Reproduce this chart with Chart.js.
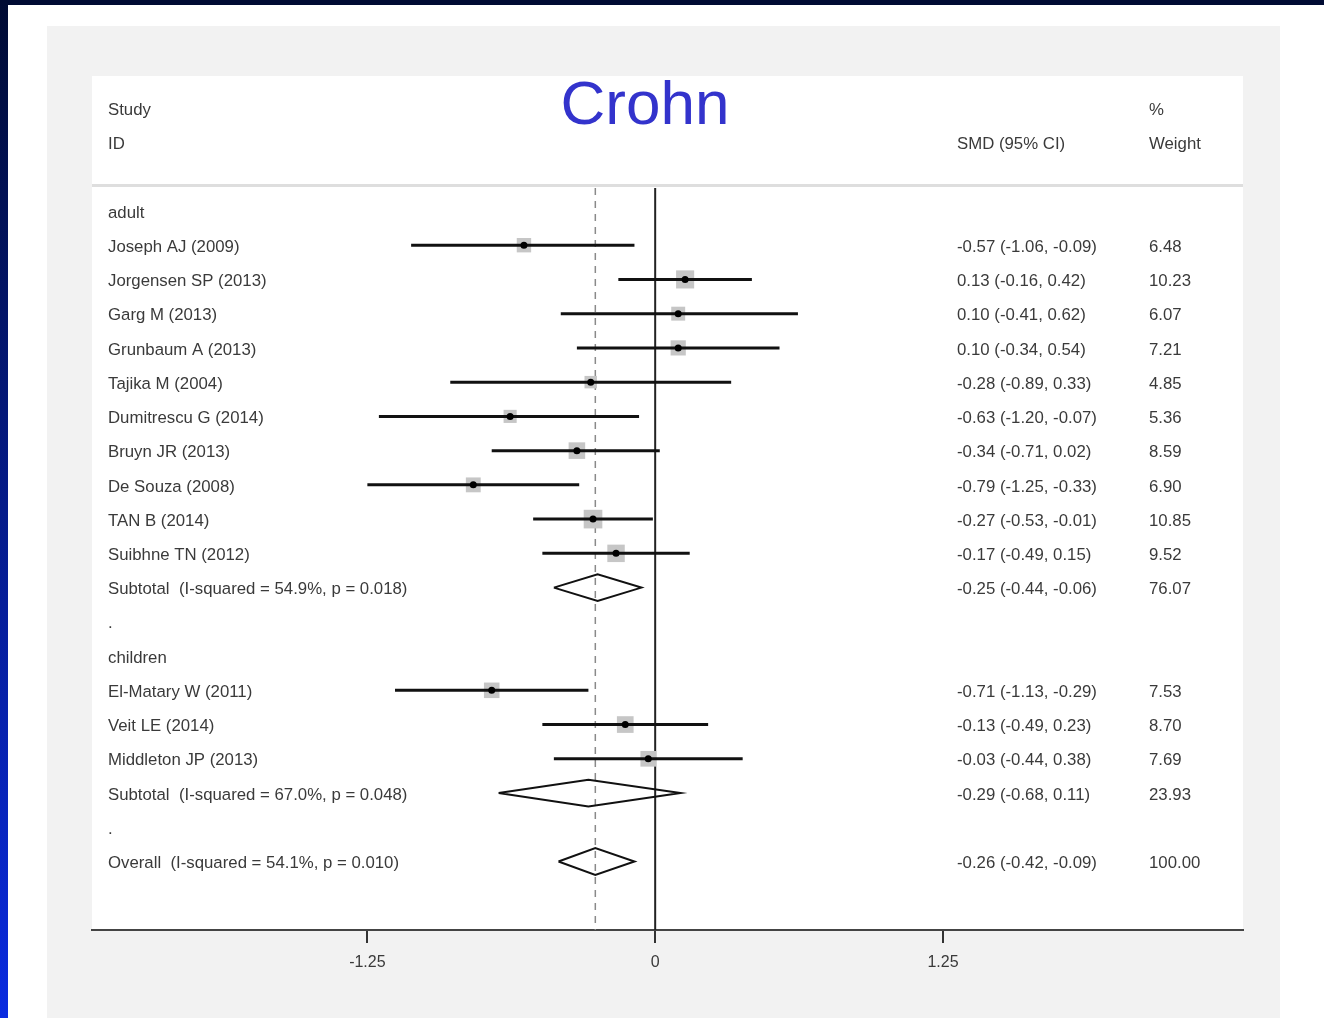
<!DOCTYPE html>
<html>
<head>
<meta charset="utf-8">
<script src="https://cdn.jsdelivr.net/npm/chart.js@4.4.0/dist/chart.umd.min.js"></script>
<style>
  body { margin: 0; background: #fff; }
  #forest { display: block; }
</style>
</head>
<body>
<canvas id="forest" width="1324" height="1018"></canvas>
<script>
// study rows
const studyNames = ["Joseph AJ (2009)", "Jorgensen SP (2013)", "Garg M (2013)", "Grunbaum A (2013)",
  "Tajika M (2004)", "Dumitrescu G (2014)", "Bruyn JR (2013)", "De Souza (2008)", "TAN B (2014)",
  "Suibhne TN (2012)", "El-Matary W (2011)", "Veit LE (2014)", "Middleton JP (2013)"];
const studyRows = [1, 2, 3, 4, 5, 6, 7, 8, 9, 10, 14, 15, 16];
const studyEst = [-0.57, 0.13, 0.10, 0.10, -0.28, -0.63, -0.34, -0.79, -0.27, -0.17, -0.71, -0.13, -0.03];
const studyLow = [-1.06, -0.16, -0.41, -0.34, -0.89, -1.20, -0.71, -1.25, -0.53, -0.49, -1.13, -0.49, -0.44];
const studyHigh = [-0.09, 0.42, 0.62, 0.54, 0.33, -0.07, 0.02, -0.33, -0.01, 0.15, -0.29, 0.23, 0.38];
const studyWeight = [6.48, 10.23, 6.07, 7.21, 4.85, 5.36, 8.59, 6.90, 10.85, 9.52, 7.53, 8.70, 7.69];

// pooled rows (diamonds)
const poolLabels = ["Subtotal  (I-squared = 54.9%, p = 0.018)", "Subtotal  (I-squared = 67.0%, p = 0.048)",
  "Overall  (I-squared = 54.1%, p = 0.010)"];
const poolRows = [11, 17, 19];
const poolEst = [-0.25, -0.29, -0.26];
const poolLow = [-0.44, -0.68, -0.42];
const poolHigh = [-0.06, 0.11, -0.09];
const poolWeight = [76.07, 23.93, 100.00];

// group headings
const groupLabels = ["adult", ".", "children", "."];
const groupRows = [0, 12, 13, 18];

const overallEst = -0.26;
const tickValues = [-1.25, 0, 1.25];
const tickLabels = ["-1.25", "0", "1.25"];

const FONT = '"Liberation Sans", Arial, Helvetica, sans-serif';
const TXT = "#3a3a3a";
const fmt = v => v.toFixed(2);

const datasets = [];

// reference lines
datasets.push({
  data: [{x: 0, y: -0.67}, {x: 0, y: 21}],
  showLine: true, borderColor: "#222", borderWidth: 2, pointRadius: 0, order: 9
});
datasets.push({
  data: [{x: overallEst, y: -0.67}, {x: overallEst, y: 21}],
  showLine: true, borderColor: "#8a8a8a", borderWidth: 1.5, borderDash: [7, 6], pointRadius: 0, order: 9
});

// weight boxes
datasets.push({
  data: studyEst.map((e, i) => ({x: e, y: studyRows[i]})),
  pointStyle: "rect",
  pointRadius: ctx => 4 * Math.sqrt(studyWeight[ctx.dataIndex]),
  pointBackgroundColor: "#c6c6c6", pointBorderWidth: 0, order: 8
});

// CI lines
studyEst.forEach((e, i) => {
  datasets.push({
    data: [{x: studyLow[i], y: studyRows[i]}, {x: studyHigh[i], y: studyRows[i]}],
    showLine: true, borderColor: "#111", borderWidth: 3, pointRadius: 0, order: 5
  });
});

// diamonds
poolEst.forEach((e, i) => {
  const r = poolRows[i];
  datasets.push({
    data: [{x: poolLow[i], y: r}, {x: e, y: r - 0.39}, {x: poolHigh[i], y: r},
           {x: e, y: r + 0.39}, {x: poolLow[i], y: r}],
    showLine: true, borderColor: "#111", borderWidth: 2, pointRadius: 0, order: 4
  });
});

// centre dots
datasets.push({
  data: studyEst.map((e, i) => ({x: e, y: studyRows[i]})),
  pointStyle: "circle", pointRadius: 3.5, pointBackgroundColor: "#000", pointBorderWidth: 0, order: 1
});

const backdrop = {
  id: "backdrop",
  beforeDraw(chart) {
    const c = chart.ctx;
    c.save();
    c.fillStyle = "#fff";
    c.fillRect(0, 0, 1324, 1018);
    // dark frame
    c.fillStyle = "#000b33";
    c.fillRect(0, 0, 1324, 5);
    const g = c.createLinearGradient(0, 0, 0, 1018);
    g.addColorStop(0, "#000b33");
    g.addColorStop(1, "#0a2be0");
    c.fillStyle = g;
    c.fillRect(0, 0, 8, 1018);
    // grey panel and white plot box
    c.fillStyle = "#f2f2f2";
    c.fillRect(47, 26, 1233, 992);
    c.fillStyle = "#fff";
    c.fillRect(92, 76, 1151, 854);
    // header separator
    c.fillStyle = "#dedede";
    c.fillRect(92, 184, 1151, 3);
    c.restore();
  }
};

const columns = {
  id: "columns",
  afterDraw(chart) {
    const c = chart.ctx;
    const y = chart.scales.y;
    c.save();
    c.fillStyle = "#3333cc";
    c.font = "62px " + FONT;
    c.textAlign = "center";
    c.textBaseline = "alphabetic";
    c.fillText("Crohn", 645, 124);

    c.fillStyle = TXT;
    c.font = "16.8px " + FONT;
    c.textAlign = "left";
    c.textBaseline = "middle";
    const put = (t, x, row) => c.fillText(t, x, y.getPixelForValue(row) + 2);
    put("Study", 108, -3);
    put("ID", 108, -2);
    put("SMD (95% CI)", 957, -2);
    put("%", 1149, -3);
    put("Weight", 1149, -2);

    groupLabels.forEach((t, i) => put(t, 108, groupRows[i]));
    studyNames.forEach((t, i) => {
      put(t, 108, studyRows[i]);
      put(`${fmt(studyEst[i])} (${fmt(studyLow[i])}, ${fmt(studyHigh[i])})`, 957, studyRows[i]);
      put(fmt(studyWeight[i]), 1149, studyRows[i]);
    });
    poolLabels.forEach((t, i) => {
      put(t, 108, poolRows[i]);
      put(`${fmt(poolEst[i])} (${fmt(poolLow[i])}, ${fmt(poolHigh[i])})`, 957, poolRows[i]);
      put(fmt(poolWeight[i]), 1149, poolRows[i]);
    });
    c.restore();
  }
};

new Chart(document.getElementById("forest"), {
  type: "scatter",
  data: { datasets },
  options: {
    responsive: false,
    animation: false,
    events: [],
    layout: { padding: { left: 92, right: 81, top: 188, bottom: 0 } },
    plugins: { legend: { display: false }, tooltip: { enabled: false } },
    scales: {
      x: {
        type: "linear",
        min: -2.446,
        max: 2.553,
        afterBuildTicks: s => { s.ticks = tickValues.map(v => ({ value: v })); },
        afterFit: s => { s.height = 88; },
        ticks: {
          autoSkip: false,
          maxRotation: 0,
          padding: 10,
          color: TXT,
          font: { family: FONT, size: 16 },
          callback: (v) => tickLabels[tickValues.indexOf(v)]
        },
        grid: { drawOnChartArea: false, drawTicks: true, tickLength: 13, color: "#333", lineWidth: 2 },
        border: { display: true, color: "#444", width: 2 }
      },
      y: {
        type: "linear",
        display: false,
        reverse: true,
        min: -0.67,
        max: 21
      }
    }
  },
  plugins: [backdrop, columns]
});
</script>
</body>
</html>
